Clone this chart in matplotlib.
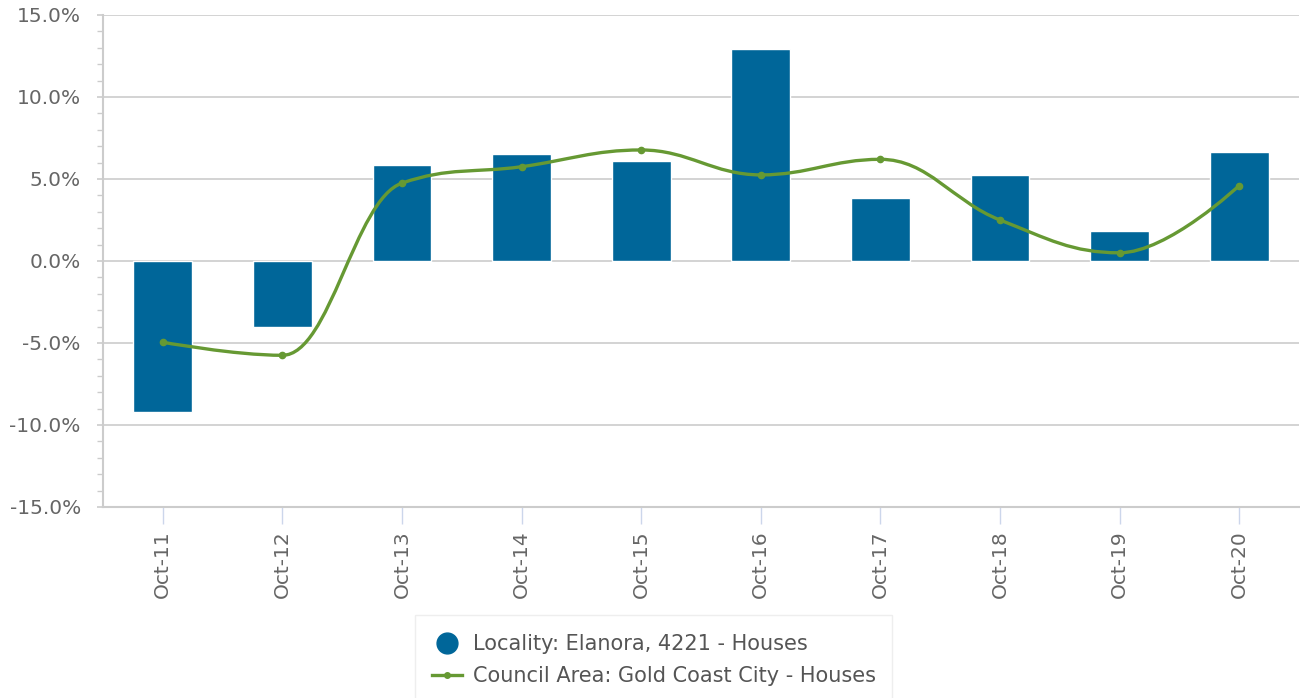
import matplotlib

matplotlib.use("Agg")
import matplotlib.pyplot as plt
import numpy as np
from matplotlib.lines import Line2D
from matplotlib.patches import PathPatch, Rectangle
from matplotlib.path import Path
from matplotlib.ticker import FuncFormatter, MultipleLocator

plt.rcParams["font.family"] = ["DejaVu Sans"]

categories = ["Oct-11", "Oct-12", "Oct-13", "Oct-14", "Oct-15",
              "Oct-16", "Oct-17", "Oct-18", "Oct-19", "Oct-20"]
locality = [-9.2, -4.0, 5.85, 6.55, 6.1, 12.9, 3.85, 5.25, 1.8, 6.65]
council = [-4.95, -5.75, 4.75, 5.75, 6.77, 5.25, 6.2, 2.5, 0.5, 4.6]

BAR_COLOR = "#006699"
LINE_COLOR = "#669933"
TEXT_COLOR = "#666666"
GRID_COLOR = "#cccccc"
FONT_SIZE = 14.5


def spline_path(xs, ys, smoothing=1.5):
    # bezier control points, same idea as a highcharts "spline" series
    n = len(xs)
    left = [(xs[i], ys[i]) for i in range(n)]
    right = [(xs[i], ys[i]) for i in range(n)]
    denom = smoothing + 1
    for i in range(1, n - 1):
        px, py = xs[i], ys[i]
        lx, ly = xs[i - 1], ys[i - 1]
        nx, ny = xs[i + 1], ys[i + 1]
        lcx = (smoothing * px + lx) / denom
        lcy = (smoothing * py + ly) / denom
        rcx = (smoothing * px + nx) / denom
        rcy = (smoothing * py + ny) / denom
        if rcx != lcx:
            corr = (rcy - lcy) * (rcx - px) / (rcx - lcx) + py - rcy
            lcy += corr
            rcy += corr
        if lcy > ly and lcy > py:
            lcy = max(ly, py)
            rcy = 2 * py - lcy
        elif lcy < ly and lcy < py:
            lcy = min(ly, py)
            rcy = 2 * py - lcy
        if rcy > ny and rcy > py:
            rcy = max(ny, py)
            lcy = 2 * py - rcy
        elif rcy < ny and rcy < py:
            rcy = min(ny, py)
            lcy = 2 * py - rcy
        left[i] = (lcx, lcy)
        right[i] = (rcx, rcy)
    verts = [(xs[0], ys[0])]
    codes = [Path.MOVETO]
    for i in range(1, n):
        verts += [right[i - 1], left[i], (xs[i], ys[i])]
        codes += [Path.CURVE4] * 3
    return Path(verts, codes)


fig = plt.figure(figsize=(13, 6.98), dpi=100)
ax = fig.add_axes([103 / 1300, 1 - 507 / 698, 1196 / 1300, 492 / 698])

x = np.arange(len(categories))
ax.bar(x, locality, width=0.49, color=BAR_COLOR, edgecolor="white",
       linewidth=1, zorder=2)

path = spline_path(list(x), council)
ax.add_patch(PathPatch(path, facecolor="none", edgecolor=LINE_COLOR,
                       linewidth=2.4, zorder=3, capstyle="round"))
ax.plot(x, council, "o", color=LINE_COLOR, markersize=4.5, zorder=4)

ax.set_xlim(-0.5, len(categories) - 0.5)
ax.set_ylim(-15, 15)
ax.yaxis.set_major_locator(MultipleLocator(5))
ax.yaxis.set_minor_locator(MultipleLocator(1))
ax.yaxis.set_major_formatter(FuncFormatter(lambda v, _: f"{v:.1f}%"))
ax.grid(axis="y", color=GRID_COLOR, linewidth=1.2, zorder=0)
ax.set_axisbelow(True)

ax.set_xticks(x)
ax.set_xticklabels(categories, rotation=90)

for side in ["top", "right"]:
    ax.spines[side].set_visible(False)
for side in ["left", "bottom"]:
    ax.spines[side].set_color(GRID_COLOR)
    ax.spines[side].set_linewidth(1.5)

ax.tick_params(axis="y", which="major", length=4.5, width=1.2,
               color=GRID_COLOR, labelcolor=TEXT_COLOR,
               labelsize=FONT_SIZE, pad=11.5)
ax.tick_params(axis="y", which="minor", length=4.5, width=1,
               color=GRID_COLOR)
ax.tick_params(axis="x", length=12, width=1, color="#ccd6eb",
               labelcolor=TEXT_COLOR, labelsize=FONT_SIZE, pad=5)

# legend box runs off the bottom edge of the image
fig.patches.append(Rectangle((415 / 1300, -0.05), 477 / 1300,
                             (1 - 615 / 698) + 0.05,
                             transform=fig.transFigure, facecolor="white",
                             edgecolor="#eeeeee", linewidth=1))
handles = [
    Line2D([], [], linestyle="none", marker="o", markersize=15,
           color=BAR_COLOR),
    Line2D([], [], color=LINE_COLOR, linewidth=2.4, marker="o",
           markersize=4),
]
labels = ["Locality: Elanora, 4221 - Houses",
          "Council Area: Gold Coast City - Houses"]
leg = fig.legend(handles, labels, loc="upper left",
                 bbox_to_anchor=(432 / 1300, 1 - 634 / 698),
                 frameon=False, fontsize=15, handlelength=1.45,
                 handletextpad=0.5, labelspacing=0.6, borderaxespad=0,
                 borderpad=0)
for t in leg.get_texts():
    t.set_color("#555555")

fig.savefig("out.png", dpi=100)
